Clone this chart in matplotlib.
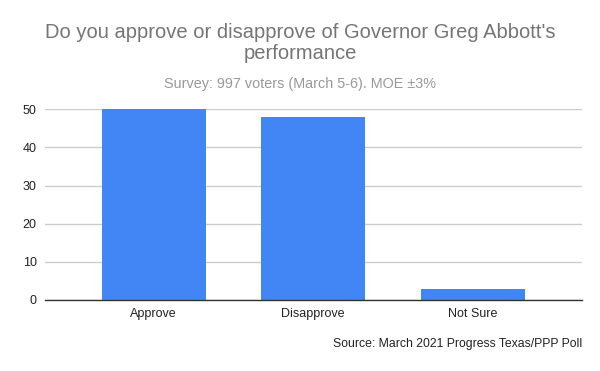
import matplotlib
matplotlib.use("Agg")
import matplotlib.pyplot as plt

categories = ["Approve", "Disapprove", "Not Sure"]
values = [50, 48, 3]
yticks = [0, 10, 20, 30, 40, 50]

plt.rcParams['font.family'] = ['Liberation Sans', 'DejaVu Sans']

fig = plt.figure(figsize=(6, 3.71), dpi=100)
ax = fig.add_axes([0.075, 0.1914, 0.895, 0.514])

x = list(range(len(categories)))
ax.bar(x, values, width=0.652, color='#4285F4', zorder=3)

ax.set_xlim(-0.681, 2.685)
ax.set_ylim(0, 50)
ax.set_yticks(yticks)
ax.set_xticks(x)
ax.set_xticklabels(categories)
ax.yaxis.grid(True, color='#cccccc', linewidth=1, zorder=0)
ax.tick_params(axis='both', length=0, labelsize=9, colors='#222222')
ax.tick_params(axis='y', pad=6)
ax.tick_params(axis='x', pad=6)
for side in ['top', 'right', 'left']:
    ax.spines[side].set_visible(False)
ax.spines['bottom'].set_color('#333333')
ax.spines['bottom'].set_linewidth(1)
ax.spines['bottom'].set_zorder(4)

fig.text(0.5, 1 - 59 / 371, "Do you approve or disapprove of Governor Greg Abbott's\nperformance",
         ha='center', va='baseline', fontsize=14.5, color='#757575', linespacing=1.15)
fig.text(0.5, 1 - 88 / 371, "Survey: 997 voters (March 5-6). MOE \u00b13%",
         ha='center', va='baseline', fontsize=10.4, color='#999999')
fig.text(0.97, 0.073, "Source: March 2021 Progress Texas/PPP Poll",
         ha='right', va='center', fontsize=8.8, color='#222222')

fig.savefig("out.png", dpi=100)
